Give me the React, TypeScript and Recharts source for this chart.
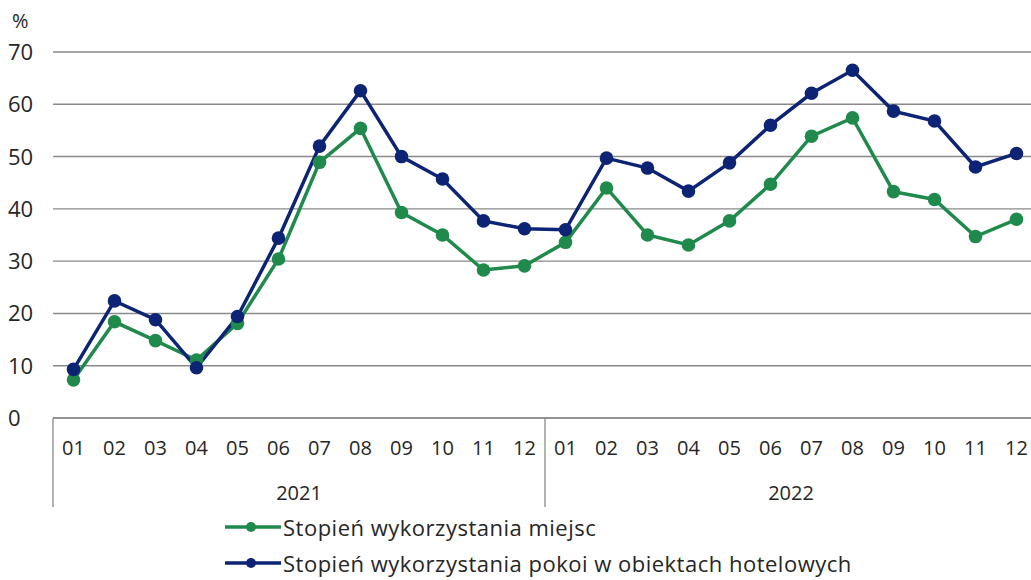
import { LineChart, Line, XAxis, YAxis, CartesianGrid, usePlotArea } from "recharts";

const MONTHS = ["01", "02", "03", "04", "05", "06", "07", "08", "09", "10", "11", "12"];
const YEARS = ["2021", "2022"];

// Stopień wykorzystania miejsc (%)
const PLACES = [
  7.3, 18.4, 14.8, 11.1, 18.1, 30.4, 48.9, 55.4, 39.3, 35.0, 28.3, 29.1,
  33.6, 44.0, 35.0, 33.1, 37.7, 44.7, 53.9, 57.4, 43.3, 41.8, 34.7, 38.0,
];
// Stopień wykorzystania pokoi w obiektach hotelowych (%)
const ROOMS = [
  9.3, 22.4, 18.8, 9.6, 19.4, 34.4, 52.0, 62.6, 50.0, 45.7, 37.7, 36.2,
  36.0, 49.7, 47.8, 43.4, 48.8, 56.0, 62.1, 66.5, 58.7, 56.8, 48.0, 50.6,
];

const Y_TICKS = [0, 10, 20, 30, 40, 50, 60, 70];

const SERIES = [
  { key: "places", name: "Stopień wykorzystania miejsc", color: "#1f8a4c" },
  { key: "rooms", name: "Stopień wykorzystania pokoi w obiektach hotelowych", color: "#0c2473" },
];

const data = YEARS.flatMap((year, yi) =>
  MONTHS.map((month, mi) => ({
    key: `${year}-${month}`,
    year,
    month,
    places: PLACES[yi * 12 + mi],
    rooms: ROOMS[yi * 12 + mi],
  }))
);

const WIDTH = 1031;
const HEIGHT = 580;
const FONT = "'Open Sans', 'Noto Sans', sans-serif";
const TEXT = "#262626";
const GRID = "#8a8a8a";

function MonthTick(props: any) {
  const { x, y, payload } = props;
  const plot = usePlotArea();
  const row = data[payload.index];
  const half = plot ? plot.width / data.length / 2 : 20;
  return (
    <g>
      <text x={x} y={y + 37} textAnchor="middle" fontSize={20} fill={TEXT} fontFamily={FONT}>
        {row.month}
      </text>
      {row.month === "01" && (
        <line x1={x - half} x2={x - half} y1={y} y2={y + 89} stroke={GRID} strokeWidth={1.3} />
      )}
      {row.month === "06" && (
        <text x={x + half} y={y + 82} textAnchor="middle" fontSize={20} fill={TEXT} fontFamily={FONT}>
          {row.year}
        </text>
      )}
    </g>
  );
}

function ValueTick(props: any) {
  const { y, payload } = props;
  return (
    <g>
      <text x={8} y={y + 8} textAnchor="start" fontSize={22} fill={TEXT} fontFamily={FONT}>
        {payload.value}
      </text>
      {payload.value === 70 && (
        <text x={12} y={y - 24} textAnchor="start" fontSize={20} fill={TEXT} fontFamily={FONT}>
          %
        </text>
      )}
    </g>
  );
}

function LegendBox() {
  return (
    <div
      style={{
        position: "absolute",
        left: 225,
        top: 509,
        fontFamily: FONT,
        fontSize: 22,
        letterSpacing: 0.5,
        color: TEXT,
        lineHeight: "36px",
      }}
    >
      {SERIES.map((s) => (
        <div key={s.key} style={{ display: "flex", alignItems: "center", height: 36 }}>
          <svg width={56} height={14}>
            <line x1={0} x2={56} y1={7} y2={7} stroke={s.color} strokeWidth={3.5} />
            <circle cx={26} cy={7} r={5} fill={s.color} />
          </svg>
          <span style={{ marginLeft: 2 }}>{s.name}</span>
        </div>
      ))}
    </div>
  );
}

export default function App() {
  return (
    <div style={{ position: "absolute", left: 0, top: 0, width: WIDTH, height: HEIGHT, background: "#fff", overflow: "hidden" }}>
      <LineChart width={WIDTH} height={HEIGHT} data={data} margin={{ top: 52, right: -6, left: 0, bottom: 0 }}>
        <CartesianGrid vertical={false} stroke={GRID} strokeWidth={1.4} />
        <XAxis
          dataKey="key"
          scale="band"
          interval={0}
          tickLine={false}
          tickSize={0}
          tickMargin={0}
          axisLine={{ stroke: GRID, strokeWidth: 1.4 }}
          tick={<MonthTick />}
          height={162}
        />
        <YAxis
          domain={[0, 70]}
          ticks={Y_TICKS}
          width={53}
          axisLine={false}
          tickLine={false}
          tick={<ValueTick />}
        />
        {SERIES.map((s) => (
          <Line
            key={s.key}
            dataKey={s.key}
            name={s.name}
            stroke={s.color}
            strokeWidth={3.5}
            dot={{ r: 6.8, fill: s.color, stroke: s.color, strokeWidth: 0 }}
            activeDot={false}
            isAnimationActive={false}
          />
        ))}
      </LineChart>
      <LegendBox />
    </div>
  );
}
